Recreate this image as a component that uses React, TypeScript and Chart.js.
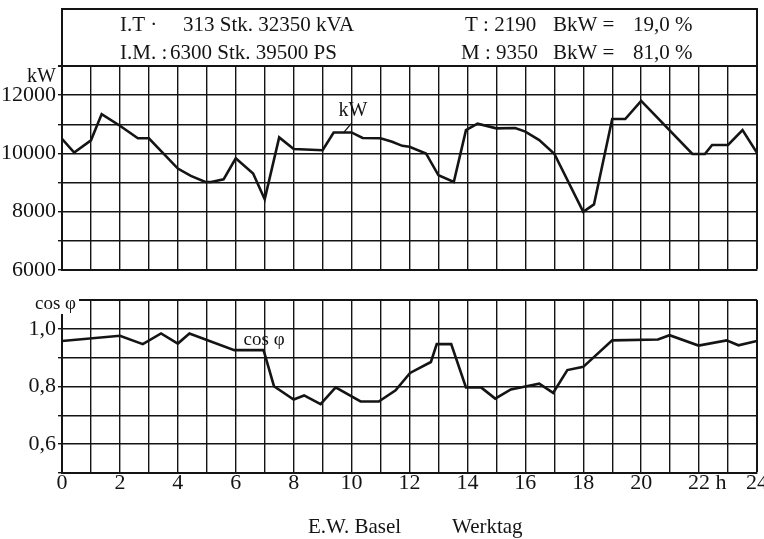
import React, { useEffect, useRef } from 'react';
import { Chart, registerables } from 'chart.js';

Chart.register(...registerables);

// ---- data ----
const kwHours = [0, 0.42, 1, 1.37, 2, 2.62, 3, 4, 4.45, 4.95, 5.15, 5.58, 6, 6.6, 7, 7.5, 8, 9, 9.38, 10, 10.38, 11, 11.4, 11.75, 12, 12.57, 13, 13.53, 13.95, 14.35, 15, 15.65, 16, 16.48, 17, 18, 18.37, 19, 19.45, 20, 21.77, 22.2, 22.45, 23, 23.5, 24];
const kwValues = [10500, 10030, 10450, 11350, 10950, 10520, 10520, 9480, 9230, 9020, 9020, 9110, 9830, 9310, 8430, 10550, 10150, 10110, 10720, 10720, 10530, 10520, 10400, 10260, 10230, 10000, 9250, 9020, 10800, 11020, 10860, 10870, 10750, 10460, 9990, 8000, 8250, 11180, 11180, 11800, 9980, 9980, 10290, 10290, 10800, 10020];

const cosHours = [0, 2, 2.79, 3.42, 4, 4.4, 5.95, 6.96, 7.32, 8, 8.36, 8.93, 9.45, 10.31, 10.94, 11.52, 12.02, 12.74, 12.94, 13.44, 13.95, 14.47, 14.96, 15.5, 16, 16.48, 16.96, 17.45, 18, 19, 20.58, 20.98, 21.98, 22.95, 23.36, 24];
const cosValues = [0.958, 0.976, 0.947, 0.984, 0.949, 0.984, 0.926, 0.926, 0.801, 0.755, 0.769, 0.739, 0.797, 0.748, 0.748, 0.787, 0.847, 0.885, 0.947, 0.947, 0.797, 0.797, 0.758, 0.79, 0.8, 0.81, 0.778, 0.857, 0.868, 0.96, 0.963, 0.978, 0.942, 0.96, 0.943, 0.958];

const kwLabelValues = [6000, 8000, 10000, 12000];
const cosLabelValues = [0.6, 0.8, 1.0];
const cosLabelTexts = ['0,6', '0,8', '1,0'];
const hourLabelValues = [0, 2, 4, 6, 8, 10, 12, 14, 16, 18, 20, 22, 24];
const hourLabelTexts = ['0', '2', '4', '6', '8', '10', '12', '14', '16', '18', '20', '   22 h', '24'];

const headerLine1 = ['I.T ·', '313 Stk. 32350 kVA', 'T : 2190', 'BkW =', '19,0 %'];
const headerLine2 = ['I.M. :', '6300 Stk. 39500 PS', 'M : 9350', 'BkW =', '81,0 %'];
const kwAxisTitle = 'kW';
const cosAxisTitle = 'cos φ';
const kwCurveLabel = 'kW';
const cosCurveLabel = 'cos φ';
const footerTexts = ['E.W. Basel', 'Werktag'];

const FONT = '"Liberation Serif", "Times New Roman", serif';
const INK = '#141414';

function gridWidth(max: number) {
  return (ctx: any) => (ctx.tick && Math.abs(ctx.tick.value - max) < 1e-6 ? 2 : 1.4);
}

export default function App() {
  const topRef = useRef<HTMLCanvasElement | null>(null);
  const botRef = useRef<HTMLCanvasElement | null>(null);

  useEffect(() => {
    const topPlugin = {
      id: 'topDecor',
      afterDraw(chart: any) {
        const { ctx, chartArea } = chart;
        const xs = chart.scales.x;
        const ys = chart.scales.y;
        ctx.save();
        // header box
        ctx.strokeStyle = INK;
        ctx.lineWidth = 2;
        ctx.beginPath();
        ctx.moveTo(chartArea.left, chartArea.top);
        ctx.lineTo(chartArea.left, 9);
        ctx.lineTo(chartArea.right, 9);
        ctx.lineTo(chartArea.right, chartArea.top);
        ctx.stroke();
        ctx.fillStyle = INK;
        ctx.font = `21px ${FONT}`;
        ctx.textBaseline = 'middle';
        ctx.textAlign = 'left';
        const xPos1 = [120, 183, 465, 553, 633];
        const xPos2 = [120, 170, 461, 553, 633];
        headerLine1.forEach((t, i) => ctx.fillText(t, xPos1[i], 25));
        headerLine2.forEach((t, i) => ctx.fillText(t, xPos2[i], 53));
        // axis title kW
        ctx.font = `20px ${FONT}`;
        ctx.textAlign = 'right';
        ctx.fillText(kwAxisTitle, 56, 77);
        // curve label kW with leader
        ctx.textAlign = 'center';
        ctx.fillText(kwCurveLabel, xs.getPixelForValue(10.05), ys.getPixelForValue(11450));
        ctx.lineWidth = 1.3;
        ctx.beginPath();
        ctx.moveTo(xs.getPixelForValue(10.0), ys.getPixelForValue(11040));
        ctx.lineTo(xs.getPixelForValue(9.74), ys.getPixelForValue(10730));
        ctx.stroke();
        ctx.restore();
      },
    };

    const botPlugin = {
      id: 'botDecor',
      afterDraw(chart: any) {
        const { ctx } = chart;
        const xs = chart.scales.x;
        const ys = chart.scales.y;
        ctx.save();
        ctx.fillStyle = '#fff';
        ctx.fillRect(33, 14, 46, 20);
        ctx.fillStyle = INK;
        ctx.font = `19px ${FONT}`;
        ctx.textBaseline = 'middle';
        ctx.textAlign = 'left';
        ctx.fillText(cosAxisTitle, 35, 24);
        ctx.textAlign = 'center';
        ctx.fillText(cosCurveLabel, xs.getPixelForValue(6.98), ys.getPixelForValue(0.96));
        ctx.font = `21px ${FONT}`;
        ctx.textAlign = 'left';
        ctx.fillText(footerTexts[0], 308, 247);
        ctx.fillText(footerTexts[1], 452, 247);
        ctx.restore();
      },
    };

    const top = new Chart(topRef.current as HTMLCanvasElement, {
      type: 'line',
      data: {
        datasets: [
          {
            data: kwHours.map((h, i) => ({ x: h, y: kwValues[i] })),
            borderColor: INK,
            borderWidth: 2.6,
            pointRadius: 0,
            tension: 0,
            fill: false,
          },
        ],
      },
      options: {
        animation: false,
        responsive: false,
        devicePixelRatio: 1,
        layout: { padding: { left: 0, right: 7, top: 66, bottom: 15 } },
        plugins: { legend: { display: false }, tooltip: { enabled: false } },
        scales: {
          x: {
            type: 'linear',
            min: 0,
            max: 24,
            ticks: { display: false, stepSize: 1, autoSkip: false },
            grid: { color: INK, lineWidth: gridWidth(24), drawTicks: false },
            border: { display: true, color: INK, width: 2 },
            afterFit: (s: any) => {
              s.height = 0;
              s.paddingLeft = 0;
              s.paddingRight = 0;
            },
          },
          y: {
            type: 'linear',
            min: 6000,
            max: 13000,
            ticks: {
              stepSize: 1000,
              autoSkip: false,
              color: INK,
              padding: 2,
              font: { family: FONT, size: 22 },
              callback: (v: any) => (kwLabelValues.includes(Number(v)) ? String(v) : ''),
            },
            grid: { color: INK, lineWidth: gridWidth(13000), tickLength: 4 },
            border: { color: INK, width: 2 },
            afterFit: (s: any) => {
              s.width = 62;
              s.paddingTop = 0;
              s.paddingBottom = 0;
            },
          },
        },
      } as any,
      plugins: [topPlugin],
    });

    const bot = new Chart(botRef.current as HTMLCanvasElement, {
      type: 'line',
      data: {
        datasets: [
          {
            data: cosHours.map((h, i) => ({ x: h, y: cosValues[i] })),
            borderColor: INK,
            borderWidth: 2.6,
            pointRadius: 0,
            tension: 0,
            fill: false,
          },
        ],
      },
      options: {
        animation: false,
        responsive: false,
        devicePixelRatio: 1,
        layout: { padding: { left: 0, right: 7, top: 20, bottom: 26 } },
        plugins: { legend: { display: false }, tooltip: { enabled: false } },
        scales: {
          x: {
            type: 'linear',
            min: 0,
            max: 24,
            ticks: {
              stepSize: 1,
              autoSkip: false,
              maxRotation: 0,
              color: INK,
              padding: 0,
              font: { family: FONT, size: 22, lineHeight: 0.9 },
              callback: (v: any) => {
                const idx = hourLabelValues.indexOf(Number(v));
                return idx >= 0 ? hourLabelTexts[idx] : '';
              },
            },
            grid: { color: INK, lineWidth: gridWidth(24), drawTicks: false },
            border: { color: INK, width: 2 },
            afterFit: (s: any) => {
              s.height = 40;
              s.paddingLeft = 0;
              s.paddingRight = 0;
            },
          },
          y: {
            type: 'linear',
            min: 0.5,
            max: 1.1,
            ticks: {
              stepSize: 0.1,
              autoSkip: false,
              color: INK,
              padding: 2,
              font: { family: FONT, size: 22 },
              callback: (v: any) => {
                const idx = cosLabelValues.findIndex((c) => Math.abs(c - Number(v)) < 1e-6);
                return idx >= 0 ? cosLabelTexts[idx] : '';
              },
            },
            grid: { color: INK, lineWidth: gridWidth(1.1), tickLength: 4 },
            border: { color: INK, width: 2 },
            afterFit: (s: any) => {
              s.width = 62;
              s.paddingTop = 0;
              s.paddingBottom = 0;
            },
          },
        },
      } as any,
      plugins: [botPlugin],
    });

    return () => {
      top.destroy();
      bot.destroy();
    };
  }, []);

  return (
    <div style={{ position: 'absolute', left: 0, top: 0, width: 764, height: 539, background: '#fff', overflow: 'hidden' }}>
      <canvas ref={topRef} width={764} height={285} style={{ position: 'absolute', left: 0, top: 0, width: 764, height: 285 }} />
      <canvas ref={botRef} width={764} height={259} style={{ position: 'absolute', left: 0, top: 280, width: 764, height: 259 }} />
    </div>
  );
}
